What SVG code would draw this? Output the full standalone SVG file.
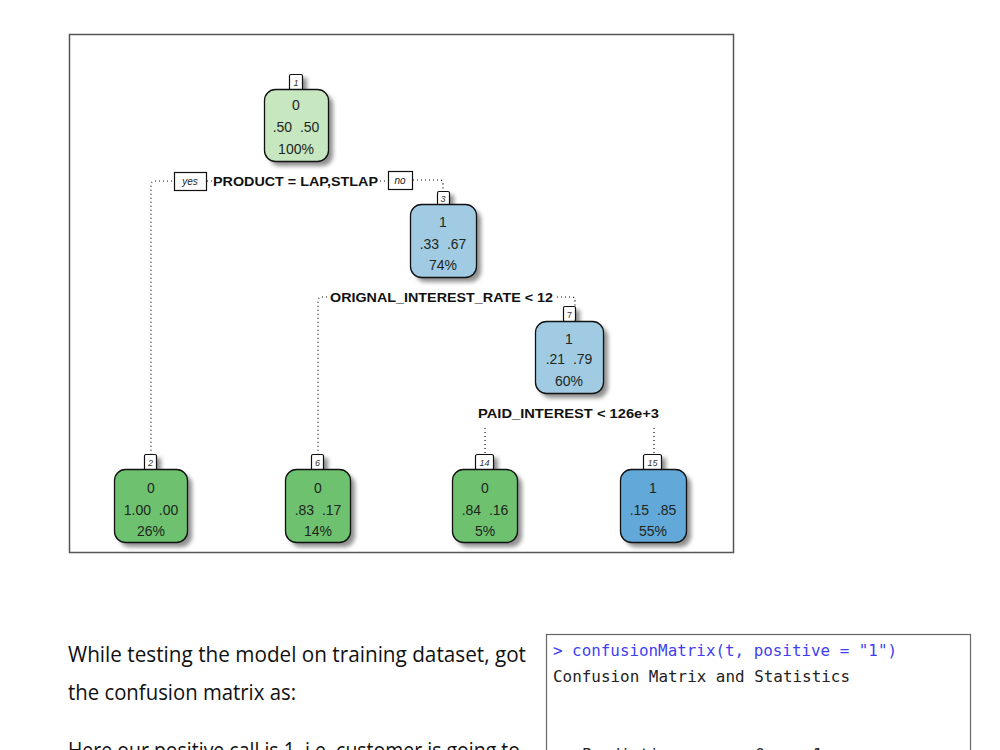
<svg xmlns="http://www.w3.org/2000/svg" width="1000" height="750" viewBox="0 0 1000 750">
<defs>
<filter id="sh" x="-20%" y="-20%" width="150%" height="150%">
<feGaussianBlur stdDeviation="2"/>
</filter>
<style>
.shadow{fill:#8f8f8f;filter:url(#sh);}
.box{stroke:#111;stroke-width:1.3;}
.g1{fill:#c7e7c0;}
.b1{fill:#a0cbe2;}
.g2{fill:#6dc16f;}
.b2{fill:#62a8d8;}
.tab{fill:#fff;stroke:#111;stroke-width:1.2;}
.tabt{font-family:"Liberation Sans",Arial,sans-serif;font-size:9px;font-style:italic;fill:#333;text-anchor:middle;}
.nt{font-family:"Liberation Sans",Arial,sans-serif;font-size:14px;fill:#1e261e;text-anchor:middle;}
.split{font-family:"Liberation Sans",Arial,sans-serif;font-size:13px;font-weight:bold;fill:#111;}
.yn{font-family:"Liberation Sans",Arial,sans-serif;font-size:10px;font-style:italic;fill:#222;text-anchor:middle;}
.dot{fill:none;stroke:#111;stroke-width:1.2;stroke-dasharray:1 3;}
.para{font-family:"Open Sans","Liberation Sans",sans-serif;font-size:21px;fill:#111;}
.mono{font-family:"DejaVu Sans Mono","Liberation Mono",monospace;font-size:16px;}
</style>
</defs>
<rect x="0" y="0" width="1000" height="750" fill="#fff"/>
<rect x="69.5" y="34.5" width="664" height="518" fill="#fff" stroke="#555" stroke-width="1.5"/>

<g id="connectors">
<path class="dot" d="M172,181 L155,181 Q151,181 151,185 L151,455"/>
<path class="dot" d="M207,181 L213,181"/>
<path class="dot" d="M380,181 L387,181"/>
<path class="dot" d="M413,180 L440,180 Q443,180 443,184 L443,191"/>
<path class="dot" d="M327,297 L322,297 Q318,297 318,301 L318,455"/>
<path class="dot" d="M557,297 L572,297 Q575,297 575,301 L575,306"/>
<path class="dot" d="M485,428 L485,455"/>
<path class="dot" d="M654,428 L654,455"/>
</g>

<g id="split1">
<rect x="174.5" y="172.5" width="32" height="18" fill="#fff" stroke="#111" stroke-width="1.2"/>
<text class="yn" x="190" y="185">yes</text>
<text class="split" x="213" y="186" textLength="165" lengthAdjust="spacingAndGlyphs">PRODUCT = LAP,STLAP</text>
<rect x="388.5" y="171.5" width="24" height="18" fill="#fff" stroke="#111" stroke-width="1.2"/>
<text class="yn" x="400" y="184">no</text>
</g>
<g id="split3">
<text class="split" x="330" y="302" textLength="223" lengthAdjust="spacingAndGlyphs">ORIGNAL_INTEREST_RATE &lt; 12</text>
</g>
<g id="split7">
<text class="split" x="478" y="418" textLength="181" lengthAdjust="spacingAndGlyphs">PAID_INTEREST &lt; 126e+3</text>
</g>

<g id="node1">
<rect class="shadow" x="294" y="78" width="13" height="15"/>
<rect class="shadow" x="269" y="94" width="64" height="72" rx="11"/>
<rect class="tab" x="289.5" y="74.5" width="13" height="16" rx="1.5"/>
<text class="tabt" x="296" y="86">1</text>
<rect class="box g1" x="264.5" y="89.5" width="64" height="72" rx="11"/>
<text class="nt" x="296" y="110">0</text>
<text class="nt" x="296" y="132" xml:space="preserve">.50  .50</text>
<text class="nt" x="296" y="154">100%</text>
</g>

<g id="node3">
<rect class="shadow" x="441" y="195" width="13" height="14"/>
<rect class="shadow" x="415" y="209" width="66" height="73" rx="11"/>
<rect class="tab" x="437.5" y="191.5" width="12" height="14" rx="1.5"/>
<text class="tabt" x="443" y="202">3</text>
<rect class="box b1" x="410.5" y="204.5" width="66" height="73" rx="11"/>
<text class="nt" x="443" y="227">1</text>
<text class="nt" x="443" y="249" xml:space="preserve">.33  .67</text>
<text class="nt" x="443" y="270">74%</text>
</g>

<g id="node7">
<rect class="shadow" x="567" y="310" width="13" height="14"/>
<rect class="shadow" x="540" y="326" width="68" height="72" rx="11"/>
<rect class="tab" x="563.5" y="306.5" width="12" height="15" rx="1.5"/>
<text class="tabt" x="569.5" y="318" style="font-style:normal">7</text>
<rect class="box b1" x="535.5" y="321.5" width="68" height="72" rx="11"/>
<text class="nt" x="569" y="344">1</text>
<text class="nt" x="569" y="364" xml:space="preserve">.21  .79</text>
<text class="nt" x="569" y="386">60%</text>
</g>

<g id="node2">
<rect class="shadow" x="148" y="458" width="13" height="14"/>
<rect class="shadow" x="119" y="474" width="73" height="73" rx="11"/>
<rect class="tab" x="144.5" y="454.5" width="12" height="16" rx="1.5"/>
<text class="tabt" x="150.5" y="466">2</text>
<rect class="box g2" x="114.5" y="469.5" width="73" height="73" rx="11"/>
<text class="nt" x="151" y="493">0</text>
<text class="nt" x="151" y="515" xml:space="preserve">1.00  .00</text>
<text class="nt" x="151" y="536">26%</text>
</g>

<g id="node6">
<rect class="shadow" x="315" y="458" width="13" height="14"/>
<rect class="shadow" x="290" y="474" width="65" height="73" rx="11"/>
<rect class="tab" x="311.5" y="454.5" width="12" height="16" rx="1.5"/>
<text class="tabt" x="317.5" y="466">6</text>
<rect class="box g2" x="285.5" y="469.5" width="65" height="73" rx="11"/>
<text class="nt" x="318" y="493">0</text>
<text class="nt" x="318" y="515" xml:space="preserve">.83  .17</text>
<text class="nt" x="318" y="536">14%</text>
</g>

<g id="node14">
<rect class="shadow" x="480" y="458" width="18" height="14"/>
<rect class="shadow" x="457" y="474" width="65" height="73" rx="11"/>
<rect class="tab" x="475.5" y="454.5" width="18" height="16" rx="2"/>
<text class="tabt" x="484.5" y="466">14</text>
<rect class="box g2" x="452.5" y="469.5" width="65" height="73" rx="11"/>
<text class="nt" x="485" y="493">0</text>
<text class="nt" x="485" y="515" xml:space="preserve">.84  .16</text>
<text class="nt" x="485" y="536">5%</text>
</g>

<g id="node15">
<rect class="shadow" x="648" y="458" width="18" height="14"/>
<rect class="shadow" x="625" y="474" width="66" height="73" rx="11"/>
<rect class="tab" x="643.5" y="454.5" width="18" height="16" rx="2"/>
<text class="tabt" x="652.5" y="466">15</text>
<rect class="box b2" x="620.5" y="469.5" width="66" height="73" rx="11"/>
<text class="nt" x="653" y="493">1</text>
<text class="nt" x="653" y="515" xml:space="preserve">.15  .85</text>
<text class="nt" x="653" y="536">55%</text>
</g>

<g id="paragraph">
<text class="para" x="68" y="662" textLength="458" lengthAdjust="spacingAndGlyphs">While testing the model on training dataset, got</text>
<text class="para" x="68" y="700" textLength="228" lengthAdjust="spacingAndGlyphs">the confusion matrix as:</text>
<text class="para" x="68" y="758" textLength="452" lengthAdjust="spacingAndGlyphs">Here our positive call is  1, i.e. customer is going to</text>
</g>

<g id="console">
<rect x="546.5" y="634.5" width="424" height="130" fill="#fff" stroke="#666" stroke-width="1.2"/>
<text class="mono" x="553" y="656" fill="#3f3ff0" textLength="344" lengthAdjust="spacingAndGlyphs">&gt; confusionMatrix(t, positive = "1")</text>
<text class="mono" x="553" y="682" fill="#222" textLength="297" lengthAdjust="spacingAndGlyphs">Confusion Matrix and Statistics</text>
<text class="mono" x="553" y="760" fill="#222" xml:space="preserve">   Prediction        0     1</text>
</g>
</svg>
